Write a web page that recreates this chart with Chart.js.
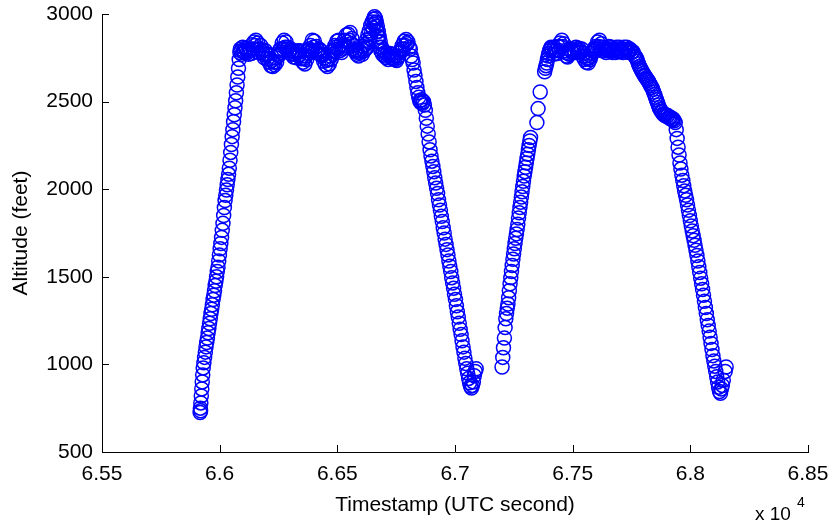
<!DOCTYPE html>
<html>
<head>
<meta charset="utf-8">
<title>Altitude vs Timestamp</title>
<script src="https://cdn.jsdelivr.net/npm/chart.js@4.4.0/dist/chart.umd.min.js"></script>
<style>
    html, body { margin: 0; padding: 0; background: #fff; }
    #wrap { width: 834px; height: 529px; }
</style>
</head>
<body>
<div id="wrap"><canvas id="chart" width="834" height="529"></canvas></div>
<script>
// flight track: [timestamp (UTC s), altitude (ft)] per flight phase
const climb1 = [
    [65917,725],[65918,750],[65919,735],[65920,780],[65922,820],[65924,860],[65926,900],[65928,940],
    [65930,980],[65933,1010],[65936,1040],[65939,1070],[65942,1100],[65945,1125],[65948,1150],
    [65951,1180],[65954,1205],[65957,1235],[65960,1260],[65963,1290],[65966,1315],[65969,1340],
    [65972,1370],[65975,1395],[65978,1420],[65981,1450],[65984,1475],[65987,1500],[65990,1530],
    [65993,1555],[65996,1590],[65999,1625],[66002,1660],[66005,1690],[66008,1725],[66011,1765],
    [66014,1805],[66017,1850],[66020,1895],[66023,1935],[66026,1965],[66029,1995],[66032,2025],
    [66035,2055],[66038,2085],[66041,2120],[66044,2165],[66047,2210],[66050,2255],[66053,2300],
    [66056,2340],[66059,2385],[66062,2425],[66065,2465],[66068,2505],[66071,2550],[66074,2595],
    [66077,2640],[66080,2690],[66083,2740],[66086,2780],[66088,2800]
];
const cruise1 = [
    [66090,2790],[66094,2770],[66098,2810],[66102,2790],[66106,2780],[66110,2805],[66114,2795],
    [66118,2780],[66122,2770],[66126,2790],[66130,2800],[66134,2775],[66138,2825],[66142,2800],
    [66146,2840],[66150,2820],[66154,2850],[66158,2800],[66162,2835],[66166,2780],[66170,2800],
    [66174,2820],[66178,2785],[66182,2795],[66186,2770],[66190,2750],[66194,2790],[66198,2770],
    [66202,2745],[66206,2770],[66210,2725],[66214,2745],[66218,2705],[66222,2735],[66226,2700],
    [66230,2725],[66234,2710],[66238,2750],[66242,2725],[66246,2770],[66250,2760],[66254,2790],
    [66258,2800],[66262,2780],[66266,2835],[66270,2800],[66274,2850],[66278,2810],[66282,2840],
    [66286,2800],[66290,2810],[66294,2780],[66298,2790],[66302,2800],[66306,2770],[66310,2790],
    [66314,2755],[66318,2770],[66322,2780],[66326,2750],[66330,2790],[66334,2780],[66338,2765],
    [66342,2790],[66346,2745],[66350,2760],[66354,2725],[66358,2745],[66362,2715],[66366,2760],
    [66370,2740],[66374,2790],[66378,2775],[66382,2800],[66386,2820],[66390,2790],[66394,2850],
    [66398,2810],[66402,2845],[66406,2790],[66410,2815],[66414,2780],[66418,2790],[66422,2800],
    [66426,2770],[66430,2790],[66434,2760],[66438,2770],[66442,2730],[66446,2750],[66450,2710],
    [66454,2735],[66458,2700],[66462,2740],[66466,2715],[66470,2760],[66474,2740],[66478,2790],
    [66482,2770],[66486,2790],[66490,2820],[66494,2810],[66498,2845],[66502,2800],[66506,2850],
    [66510,2790],[66514,2825],[66518,2780],[66522,2800],[66526,2820],[66530,2850],[66534,2810],
    [66538,2880],[66542,2840],[66546,2885],[66550,2850],[66554,2895],[66558,2830],[66562,2860],
    [66566,2800],[66570,2820],[66574,2790],[66578,2795],[66582,2770],[66586,2780],[66590,2760],
    [66594,2790],[66598,2780],[66602,2800],[66606,2770],[66610,2815],[66614,2790],[66618,2825],
    [66620,2800],[66624,2850],[66627,2810],[66630,2880],[66633,2840],[66636,2905],[66639,2860],
    [66642,2935],[66645,2890],[66648,2955],[66651,2920],[66654,2970],[66656,2940],[66658,2985],
    [66660,2950],[66662,2975],[66664,2930],[66666,2955],[66668,2900],[66670,2930],[66672,2870],
    [66674,2900],[66676,2840],[66678,2870],[66680,2810],[66682,2845],[66685,2790],[66688,2810],
    [66692,2770],[66696,2790],[66700,2760],[66704,2780],[66708,2750],[66712,2770],[66716,2740],
    [66720,2760],[66724,2775],[66728,2750],[66732,2770],[66736,2745],[66740,2760],[66744,2740],
    [66748,2760],[66752,2735],[66756,2750],[66760,2760],[66764,2780],[66768,2790],[66772,2800],
    [66776,2820],[66780,2800],[66784,2845],[66788,2820],[66792,2855],[66796,2830],[66800,2840],
    [66806,2810]
];
const descent1 = [
    [66810,2800],[66814,2760],[66818,2740],[66822,2720],[66826,2680],[66830,2650],[66834,2615],
    [66838,2580],[66842,2550],[66846,2525],[66850,2505],[66854,2495],[66858,2510],[66862,2490],
    [66866,2500],[66870,2480],[66874,2450],[66878,2405],[66882,2360],[66886,2315],[66890,2270],
    [66894,2225],[66898,2190],[66902,2160],[66906,2130],[66910,2100],[66914,2065],[66918,2035],
    [66922,2005],[66926,1975],[66930,1940],[66934,1910],[66938,1880],[66942,1845],[66946,1815],
    [66950,1780],[66954,1750],[66958,1715],[66962,1685],[66966,1655],[66970,1625],[66974,1590],
    [66978,1560],[66982,1530],[66986,1495],[66990,1465],[66994,1435],[66998,1400],[67002,1370],
    [67006,1335],[67010,1300],[67014,1270],[67018,1235],[67022,1200],[67026,1170],[67030,1135],
    [67034,1100],[67038,1070],[67042,1035],[67046,1005],[67050,975],[67054,950],[67058,920],
    [67062,895],[67066,875],[67070,865],[67074,880],[67078,900],[67082,935],[67086,960],[67090,975]
];
const climb2 = [
    [67200,985],[67203,1040],[67206,1095],[67210,1150],[67213,1210],[67216,1260],[67219,1290],
    [67222,1320],[67225,1345],[67228,1380],[67231,1420],[67234,1460],[67237,1495],[67240,1530],
    [67243,1565],[67246,1600],[67249,1630],[67252,1660],[67255,1690],[67258,1720],[67261,1745],
    [67264,1770],[67267,1800],[67270,1835],[67273,1865],[67276,1895],[67279,1925],[67282,1955],
    [67285,1985],[67288,2015],[67291,2045],[67294,2075],[67297,2100],[67300,2125],[67303,2150],
    [67306,2175],[67309,2200],[67312,2225],[67315,2250],[67318,2275],[67321,2295],
    [67348,2380],[67353,2460],[67362,2555],
    [67381,2670],[67384,2690],[67387,2705],[67390,2720],[67393,2740],[67396,2760],[67399,2775],
    [67402,2790],[67405,2800],[67408,2810],[67411,2805]
];
const cruise2 = [
    [67414,2790],[67418,2770],[67422,2810],[67426,2790],[67430,2795],[67434,2775],[67438,2815],
    [67442,2790],[67446,2835],[67450,2810],[67454,2850],[67458,2815],[67462,2830],[67466,2790],
    [67470,2780],[67474,2760],[67478,2755],[67482,2775],[67486,2770],[67490,2800],[67494,2790],
    [67498,2780],[67502,2800],[67506,2790],[67510,2780],[67514,2810],[67518,2795],[67522,2780],
    [67526,2805],[67530,2790],[67534,2780],[67538,2800],[67542,2760],[67546,2775],[67550,2740],
    [67554,2760],[67558,2725],[67562,2745],[67566,2720],[67570,2750],[67574,2740],[67578,2760],
    [67582,2775],[67586,2790],[67590,2800],[67594,2790],[67598,2815],[67602,2800],[67606,2840],
    [67610,2815],[67614,2850],[67618,2810],[67622,2830],[67626,2790],[67630,2810],[67634,2800],
    [67638,2790],[67642,2780],[67646,2800],[67650,2790],[67654,2815],[67658,2790],[67662,2800],
    [67666,2810],[67670,2780],[67674,2790],[67678,2795],[67682,2780],[67686,2810],[67690,2790],
    [67694,2800],[67698,2810],[67702,2785],[67706,2790],[67710,2800],[67714,2780],[67718,2810],
    [67722,2795],[67726,2795],[67730,2810],[67734,2790],[67738,2780],[67742,2800],[67746,2795],
    [67750,2780]
];
const descent2 = [
    [67756,2785],[67760,2770],[67764,2760],[67768,2755],[67772,2745],[67776,2730],[67780,2715],
    [67784,2700],[67788,2690],[67792,2680],[67796,2670],[67800,2660],[67804,2650],[67808,2645],
    [67812,2635],[67816,2628],[67820,2620],[67824,2610],[67828,2600],[67832,2590],[67836,2580],
    [67840,2570],[67844,2555],[67848,2540],[67852,2525],[67856,2510],[67860,2495],[67864,2480],
    [67868,2465],[67872,2455],[67876,2445],[67880,2440],[67884,2430],[67888,2425],[67892,2420],
    [67896,2425],[67900,2415],[67904,2420],[67908,2410],[67912,2405],[67916,2410],[67920,2400],
    [67924,2395],[67928,2400],[67932,2390],[67936,2380],[67940,2340],[67944,2290],[67948,2240],
    [67952,2195],[67956,2150],[67960,2115],[67964,2080],[67968,2050],[67972,2020],[67976,1990],
    [67980,1965],[67984,1940],[67988,1910],[67992,1880],[67996,1850],[68000,1820],[68004,1790],
    [68008,1762],[68012,1735],[68016,1708],[68020,1680],[68024,1652],[68028,1622],[68032,1590],
    [68036,1558],[68040,1525],[68044,1492],[68048,1460],[68052,1428],[68056,1395],[68060,1360],
    [68064,1325],[68068,1290],[68072,1255],[68076,1222],[68080,1190],[68084,1155],[68088,1120],
    [68092,1085],[68096,1050],[68100,1020],[68104,990],[68108,960],[68112,930],[68116,900],
    [68120,870],[68124,845],[68128,835],[68132,860],[68136,880],[68140,910],[68148,960],[68152,985]
];

const xTickValues = [65500, 66000, 66500, 67000, 67500, 68000, 68500];
const xTickLabels = ['6.55', '6.6', '6.65', '6.7', '6.75', '6.8', '6.85'];
const yTickValues = [500, 1000, 1500, 2000, 2500, 3000];
const yTickLabels = ['500', '1000', '1500', '2000', '2500', '3000'];

const FONT = '"Liberation Sans", Arial, Helvetica, sans-serif';

const track = [climb1, cruise1, descent1, climb2, cruise2, descent2]
    .flat()
    .map(p => ({ x: p[0], y: p[1] }));

// inward tick marks + the x10^4 multiplier under the x axis
const axisExtras = {
    id: 'axisExtras',
    afterDraw(chart) {
        const { ctx, chartArea: a, scales: { x, y } } = chart;
        ctx.save();
        ctx.strokeStyle = '#000';
        ctx.lineWidth = 1;
        ctx.beginPath();
        xTickValues.forEach(v => {
            const px = Math.round(x.getPixelForValue(v)) + 0.5;
            ctx.moveTo(px, a.bottom);
            ctx.lineTo(px, a.bottom - 7);
        });
        yTickValues.forEach(v => {
            const py = Math.round(y.getPixelForValue(v)) + 0.5;
            ctx.moveTo(a.left, py);
            ctx.lineTo(a.left + 7, py);
        });
        ctx.stroke();

        ctx.fillStyle = '#000';
        ctx.textAlign = 'left';
        ctx.textBaseline = 'alphabetic';
        ctx.font = '19px ' + FONT;
        ctx.fillText('x 10', a.right - 53, a.bottom + 68);
        ctx.font = '14px ' + FONT;
        ctx.fillText('4', a.right - 11, a.bottom + 55);
        ctx.restore();
    }
};

const ctx = document.getElementById('chart').getContext('2d');
new Chart(ctx, {
    type: 'scatter',
    data: {
        datasets: [{
            data: track,
            pointStyle: 'circle',
            pointRadius: 7,
            pointHoverRadius: 7,
            pointBorderWidth: 1.5,
            pointBorderColor: '#0000ff',
            pointBackgroundColor: 'rgba(0,0,0,0)',
            showLine: false,
            clip: false
        }]
    },
    options: {
        responsive: false,
        animation: false,
        devicePixelRatio: 1,
        layout: { padding: { top: 14, right: 26, bottom: 0, left: 0 } },
        plugins: {
            legend: { display: false },
            tooltip: { enabled: false }
        },
        scales: {
            x: {
                type: 'linear',
                min: 65500,
                max: 68500,
                afterBuildTicks: s => { s.ticks = xTickValues.map(v => ({ value: v })); },
                afterFit: s => { s.height = 77; s.paddingLeft = 0; s.paddingRight = 0; },
                grid: { display: false, drawTicks: false },
                border: { display: true, color: '#000', width: 1 },
                ticks: {
                    autoSkip: false,
                    maxRotation: 0,
                    padding: 10,
                    color: '#000',
                    font: { family: FONT, size: 21 },
                    callback: (v, i) => xTickLabels[i]
                },
                title: {
                    display: true,
                    text: 'Timestamp (UTC second)',
                    color: '#000',
                    font: { family: FONT, size: 21 },
                    padding: { top: 0, bottom: 11 }
                }
            },
            y: {
                type: 'linear',
                min: 500,
                max: 3000,
                afterBuildTicks: s => { s.ticks = yTickValues.map(v => ({ value: v })); },
                afterFit: s => { s.width = 102; s.paddingTop = 0; s.paddingBottom = 0; },
                grid: { display: false, drawTicks: false },
                border: { display: true, color: '#000', width: 1 },
                ticks: {
                    autoSkip: false,
                    padding: 9,
                    color: '#000',
                    font: { family: FONT, size: 21 },
                    callback: (v, i) => yTickLabels[i]
                },
                title: {
                    display: true,
                    text: 'Altitude (feet)',
                    color: '#000',
                    font: { family: FONT, size: 21 },
                    padding: { top: 9, bottom: 0 }
                }
            }
        }
    },
    plugins: [axisExtras]
});
</script>
</body>
</html>
